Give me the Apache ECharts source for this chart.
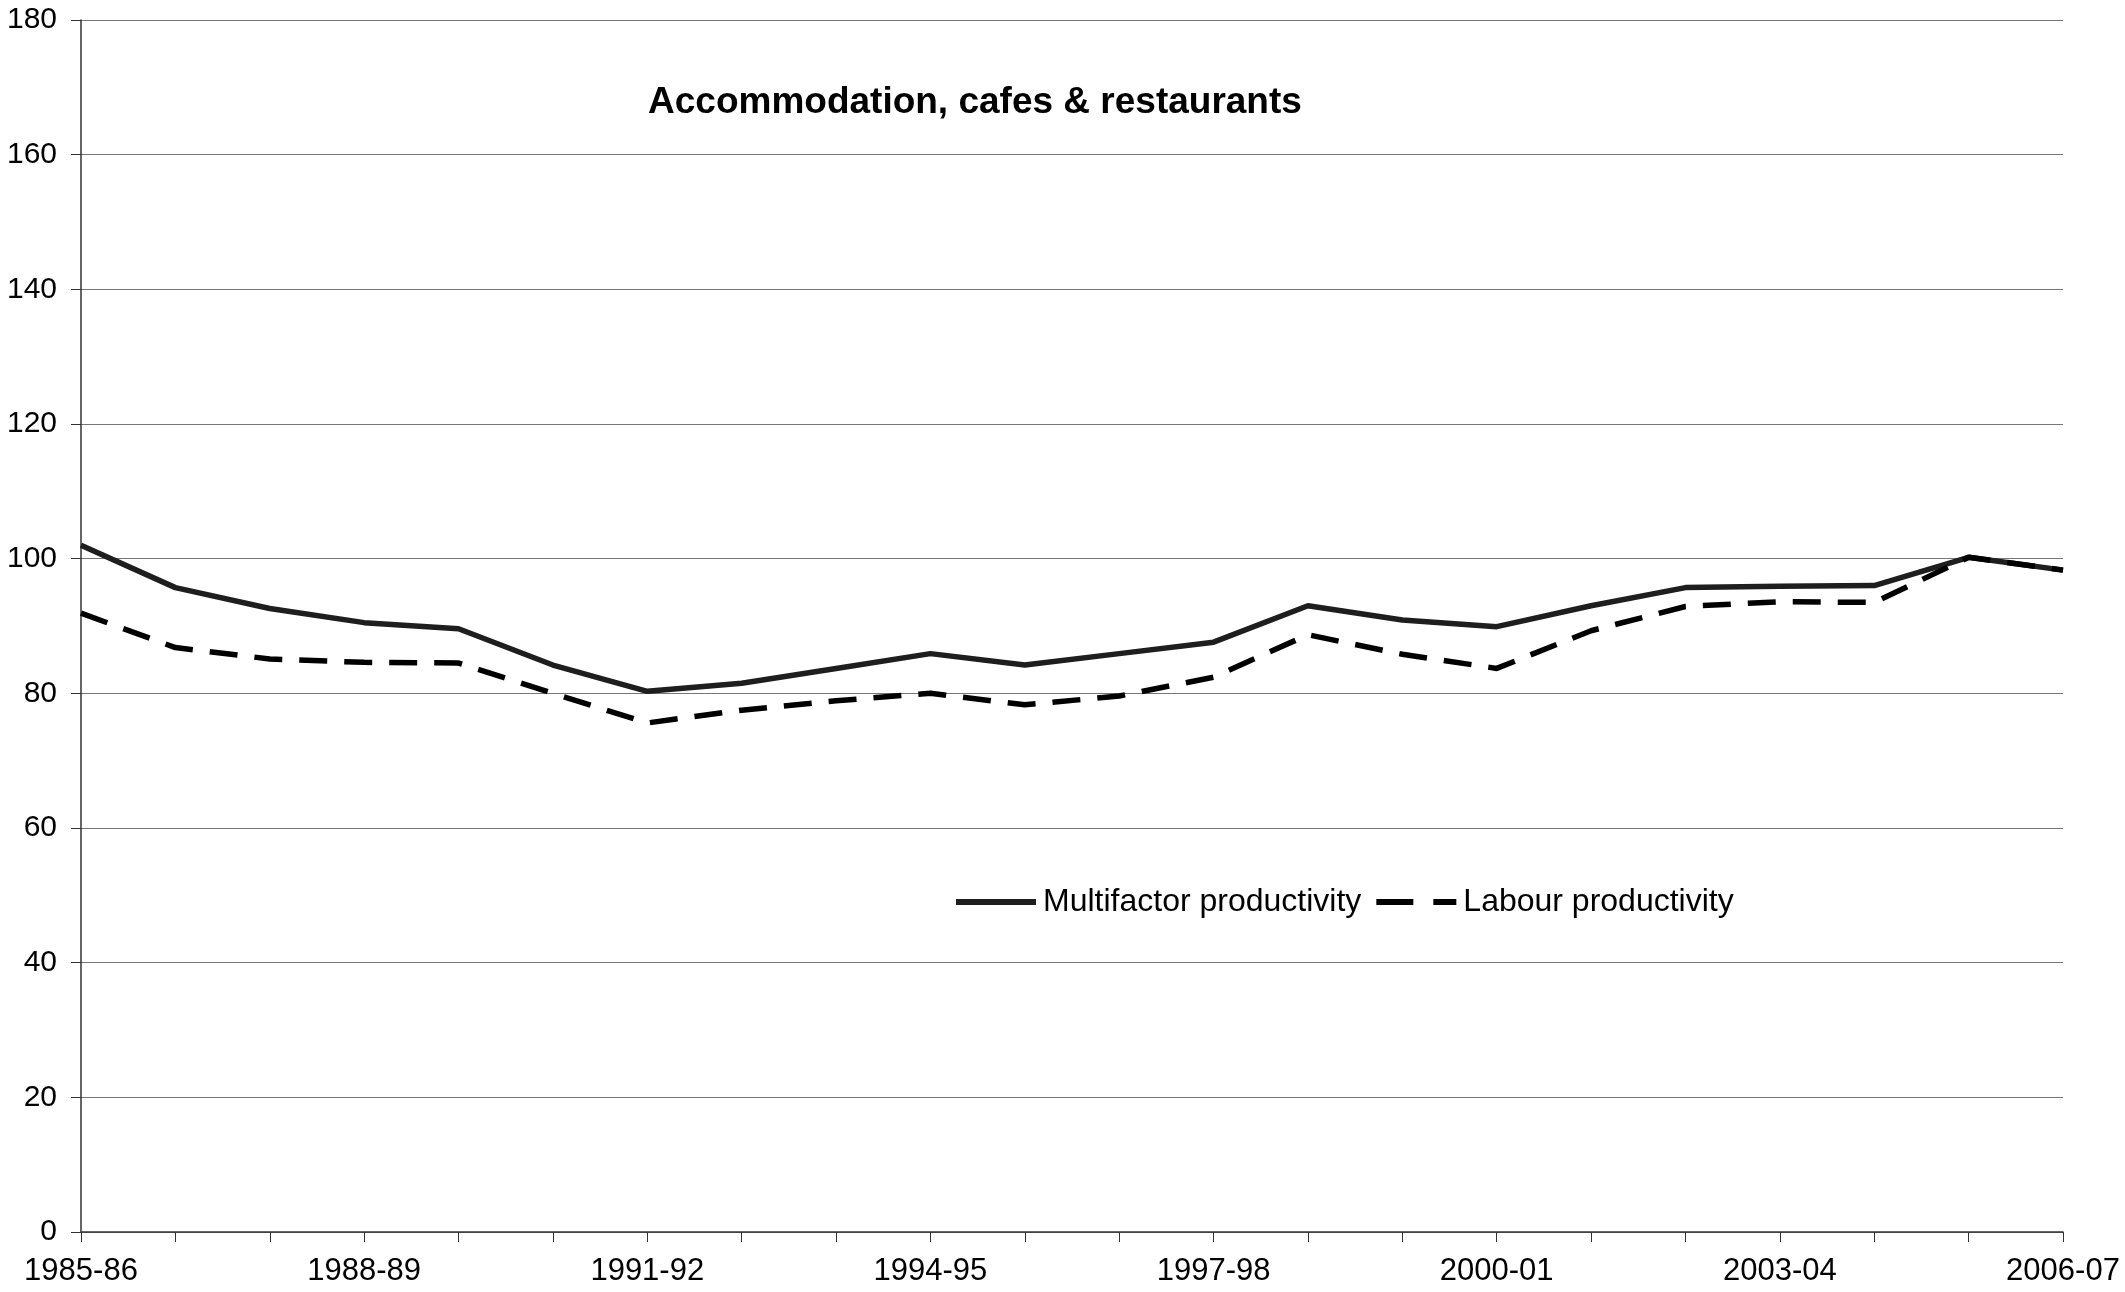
<!DOCTYPE html>
<html>
<head>
<meta charset="utf-8">
<script src="https://cdn.jsdelivr.net/npm/echarts@6/dist/echarts.min.js"></script>
<style>
html,body{margin:0;padding:0;background:#fff;}
#chart{width:2125px;height:1292px;}
</style>
</head>
<body>
<div id="chart"></div>
<script>
const categories = ['1985-86','1986-87','1987-88','1988-89','1989-90','1990-91','1991-92','1992-93','1993-94','1994-95','1995-96','1996-97','1997-98','1998-99','1999-00','2000-01','2001-02','2002-03','2003-04','2004-05','2005-06','2006-07'];
const multifactor = [102.0,95.7,92.6,90.5,89.6,84.2,80.3,81.5,83.7,85.9,84.2,85.9,87.6,93.0,90.9,89.9,93.0,95.7,95.9,96.0,100.2,98.3];
const labour = [91.9,86.8,85.1,84.6,84.5,80.0,75.6,77.5,78.9,80.0,78.3,79.6,82.4,88.7,85.8,83.7,89.3,92.9,93.6,93.5,100.2,98.3];
const yTicks = {min:0, max:180, interval:20};
const titleText = 'Accommodation, cafes & restaurants';

const FONT = '"Liberation Sans", Arial, sans-serif';
const chart = echarts.init(document.getElementById('chart'), null, {renderer:'canvas'});
chart.setOption({
  backgroundColor:'#fff',
  animation:false,
  title:{
    text:titleText,
    left:643, top:79,
    textStyle:{fontFamily:FONT, fontWeight:'bold', fontSize:37, color:'#000'}
  },
  legend:{
    left:951, top:881,
    itemWidth:80, itemHeight:6, itemGap:15,
    textStyle:{fontFamily:FONT, fontSize:32, color:'#000', padding:[0,0,0,2]},
    data:[
      {name:'Multifactor productivity', icon:'path://M0,0H80V6H0Z', itemStyle:{color:'#1e1e1e'}},
      {name:'Labour productivity', icon:'path://M0,0H37V6H0Z M57,0H80V6H57Z', itemStyle:{color:'#000'}}
    ]
  },
  grid:{left:81, right:62, top:20, bottom:60, containLabel:false},
  xAxis:{
    type:'category',
    data:categories,
    boundaryGap:false,
    axisLine:{lineStyle:{color:'#333', width:1.5}},
    axisTick:{show:true, interval:0, length:10, lineStyle:{color:'#333'}},
    axisLabel:{interval:2, margin:24, fontFamily:FONT, fontSize:31, color:'#000'},
    splitLine:{show:false}
  },
  yAxis:{
    type:'value',
    min:yTicks.min, max:yTicks.max, interval:yTicks.interval,
    axisLine:{show:true, lineStyle:{color:'#333', width:1.5}},
    axisTick:{show:true, length:10, lineStyle:{color:'#333'}},
    axisLabel:{margin:24, fontFamily:FONT, fontSize:30, color:'#000'},
    splitLine:{show:true, lineStyle:{color:'#777', width:1.2}}
  },
  series:[
    {
      name:'Multifactor productivity', type:'line', data:multifactor,
      symbol:'none', smooth:false,
      lineStyle:{color:'#1e1e1e', width:5.5, type:'solid'},
      itemStyle:{color:'#1e1e1e'}
    },
    {
      name:'Labour productivity', type:'line', data:labour,
      symbol:'none', smooth:false,
      lineStyle:{color:'#000', width:5.5, type:[28,17]},
      itemStyle:{color:'#000'}
    }
  ]
});
</script>
</body>
</html>
